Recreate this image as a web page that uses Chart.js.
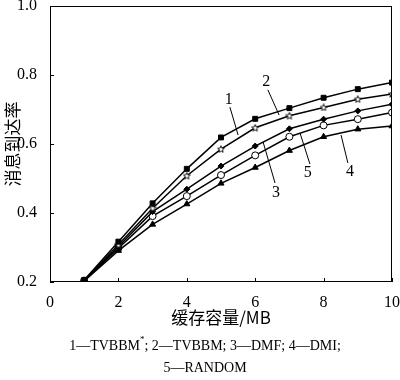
<!DOCTYPE html>
<html>
<head>
<meta charset="utf-8">
<script src="https://cdn.jsdelivr.net/npm/chart.js@4"></script>
<style>
  html, body { margin: 0; padding: 0; background: #fff; }
  #wrap { width: 400px; height: 380px; }
</style>
</head>
<body>
<div id="wrap"><canvas id="myChart" width="400" height="380"></canvas></div>
<script>
// Data
const cacheSizes = [1, 2, 3, 4, 5, 6, 7, 8, 9, 10];
const tvbbmStar = [0.206, 0.317, 0.428, 0.528, 0.619, 0.673, 0.704, 0.734, 0.759, 0.778];
const tvbbm     = [0.205, 0.308, 0.414, 0.508, 0.585, 0.647, 0.682, 0.706, 0.730, 0.745];
const dmf       = [0.204, 0.302, 0.404, 0.469, 0.536, 0.594, 0.644, 0.672, 0.696, 0.715];
const dmi       = [0.203, 0.291, 0.367, 0.426, 0.486, 0.532, 0.581, 0.621, 0.643, 0.652];
const random    = [0.203, 0.298, 0.391, 0.449, 0.510, 0.567, 0.621, 0.654, 0.672, 0.691];
const yTicks = [0.2, 0.4, 0.6, 0.8, 1.0];
const xTicks = [0, 2, 4, 6, 8, 10];

// curve number labels: [text, textX, textY, lineFromX, lineFromY, lineToX, lineToY]
const curveLabels = [
    ['1', 5.23, 0.727, 5.26, 0.707, 5.50, 0.626],
    ['2', 6.32, 0.780, 6.37, 0.757, 6.70, 0.684],
    ['3', 6.61, 0.458, 6.58, 0.487, 6.23, 0.606],
    ['5', 7.54, 0.516, 7.60, 0.542, 7.31, 0.632],
    ['4', 8.77, 0.519, 8.71, 0.545, 8.51, 0.626]
];

const serif = "'Liberation Serif', 'Times New Roman', serif";
const cjk = "'Noto Sans CJK SC', 'Liberation Serif', serif";

// small open five-point star used as marker for curve 2
const starMark = document.createElement('canvas');
starMark.width = 8;
starMark.height = 8;
(function () {
    const c = starMark.getContext('2d');
    c.beginPath();
    for (let i = 0; i < 10; i++) {
        const r = i % 2 === 0 ? 3.6 : 1.6;
        const ang = -Math.PI / 2 + i * Math.PI / 5;
        const px = 4 + r * Math.cos(ang), py = 4.3 + r * Math.sin(ang);
        if (i === 0) c.moveTo(px, py); else c.lineTo(px, py);
    }
    c.closePath();
    c.fillStyle = '#fff';
    c.fill();
    c.strokeStyle = '#000';
    c.lineWidth = 0.9;
    c.stroke();
})();

function toPoints(arr) {
    return cacheSizes.map((x, i) => ({x: x, y: arr[i]}));
}

function series(label, arr, style, radius, fill) {
    return {
        label: label,
        data: toPoints(arr),
        borderColor: '#000',
        borderWidth: 1.5,
        backgroundColor: fill,
        pointStyle: style,
        pointRadius: radius,
        pointBorderWidth: 1,
        pointBorderColor: '#000',
        pointBackgroundColor: fill,
        tension: 0
    };
}

// frame, inward ticks, curve numbers and bottom caption
const decorations = {
    id: 'decorations',
    afterDatasetsDraw(chart) {
        const ctx = chart.ctx;
        const a = chart.chartArea;
        const xs = chart.scales.x, ys = chart.scales.y;
        ctx.save();
        ctx.strokeStyle = '#000';
        ctx.lineWidth = 1;
        ctx.strokeRect(a.left + 0.5, a.top + 0.5, a.right - a.left - 1, a.bottom - a.top - 1);
        ctx.beginPath();
        xTicks.forEach(v => {
            const px = Math.round(xs.getPixelForValue(v)) + 0.5;
            ctx.moveTo(px, a.bottom);
            ctx.lineTo(px, a.bottom - 4);
        });
        yTicks.forEach(v => {
            const py = Math.round(ys.getPixelForValue(v)) + 0.5;
            ctx.moveTo(a.left, py);
            ctx.lineTo(a.left + 4, py);
        });
        ctx.stroke();

        ctx.fillStyle = '#000';
        ctx.font = '16px ' + serif;
        ctx.textAlign = 'center';
        ctx.textBaseline = 'middle';
        ctx.lineWidth = 1;
        curveLabels.forEach(c => {
            ctx.fillText(c[0], xs.getPixelForValue(c[1]), ys.getPixelForValue(c[2]));
            ctx.beginPath();
            ctx.moveTo(xs.getPixelForValue(c[3]), ys.getPixelForValue(c[4]));
            ctx.lineTo(xs.getPixelForValue(c[5]), ys.getPixelForValue(c[6]));
            ctx.stroke();
        });

        // caption
        ctx.font = '14px ' + serif;
        ctx.textAlign = 'left';
        const p1 = '1\u2014TVBBM', p2 = '; 2\u2014TVBBM; 3\u2014DMF; 4\u2014DMI;';
        const w1 = ctx.measureText(p1).width;
        ctx.font = '9px ' + serif;
        const ws = ctx.measureText('*').width;
        ctx.font = '14px ' + serif;
        const w2 = ctx.measureText(p2).width;
        let x0 = 205 - (w1 + ws + w2) / 2;
        ctx.fillText(p1, x0, 346);
        ctx.font = '9px ' + serif;
        ctx.fillText('*', x0 + w1, 340);
        ctx.font = '14px ' + serif;
        ctx.fillText(p2, x0 + w1 + ws, 346);
        ctx.textAlign = 'center';
        ctx.fillText('5\u2014RANDOM', 205, 368);
        ctx.restore();
    }
};

const config = {
    type: 'line',
    data: {
        datasets: [
            series('1', tvbbmStar, 'rect', 3.5, '#000'),
            series('2', tvbbm, starMark, 4, '#fff'),
            series('3', dmf, 'rectRot', 3, '#000'),
            series('4', dmi, 'triangle', 3.5, '#000'),
            series('5', random, 'circle', 3.5, '#fff')
        ]
    },
    options: {
        responsive: false,
        animation: false,
        layout: { padding: { top: 6, right: 8, bottom: 52, left: 0 } },
        plugins: {
            legend: { display: false },
            tooltip: { enabled: false }
        },
        scales: {
            x: {
                type: 'linear',
                min: 0,
                max: 10,
                afterBuildTicks: s => { s.ticks = xTicks.map(v => ({value: v})); },
                afterFit: s => { s.height = 46; s.paddingRight = 0; s.paddingLeft = 0; },
                grid: { display: false },
                border: { display: false },
                ticks: {
                    color: '#000',
                    padding: 3,
                    maxRotation: 0,
                    font: { family: serif, size: 16 }
                },
                title: {
                    display: true,
                    text: '缓存容量/MB',
                    color: '#000',
                    font: { family: cjk, size: 17 },
                    padding: { top: 0, bottom: 0 }
                }
            },
            y: {
                min: 0.2,
                max: 1.0,
                afterBuildTicks: s => { s.ticks = yTicks.map(v => ({value: v})); },
                afterFit: s => { s.width = 50; s.paddingTop = 0; s.paddingBottom = 0; },
                grid: { display: false },
                border: { display: false },
                ticks: {
                    color: '#000',
                    padding: 5,
                    font: { family: serif, size: 16 },
                    callback: v => v.toFixed(1)
                },
                title: {
                    display: true,
                    text: '消息到达率',
                    color: '#000',
                    font: { family: cjk, size: 17 },
                    padding: { top: 2, bottom: 0 }
                }
            }
        }
    },
    plugins: [decorations]
};

const myChart = new Chart(document.querySelector('#myChart'), config);
</script>
</body>
</html>
